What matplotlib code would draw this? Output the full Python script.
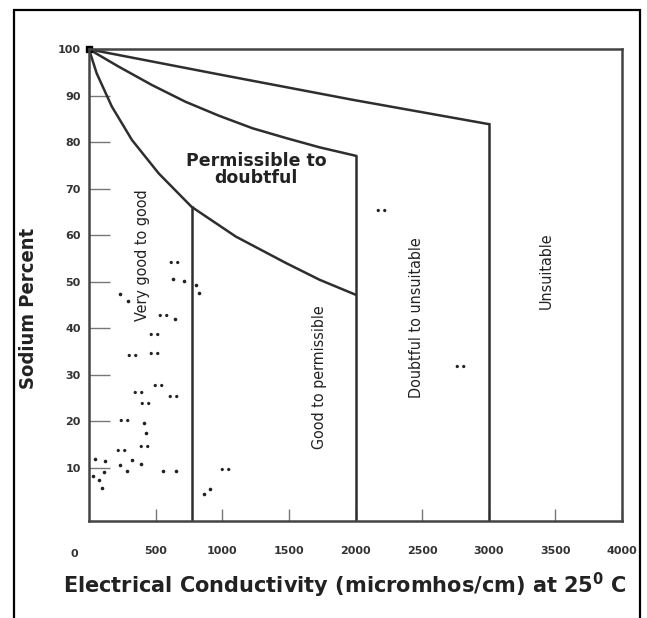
import matplotlib
matplotlib.use("Agg")
import matplotlib.pyplot as plt
from matplotlib.path import Path
from matplotlib.patches import Rectangle

# boundary curves (EC, Na%)
top_ec = [0, 975, 1985, 3000]
top_na = [100, 94.6, 89.1, 83.9]
mid_ec = [0, 221, 473, 725, 976, 1228, 1479, 1731, 2000]
mid_na = [100, 96.3, 92.3, 88.7, 85.7, 83.0, 80.9, 78.9, 77.1]
low_ec = [0, 58, 171, 322, 523, 770, 1102, 1479, 1731, 2000]
low_na = [100, 94.8, 87.7, 80.5, 73.3, 66.1, 59.7, 54.0, 50.4, 47.2]

# samples drawn as a double dot
pair_ec = [637, 559, 486, 326, 489, 521, 364, 634, 421, 266, 243, 411, 1020, 2190, 2782]
pair_na = [54.2, 42.9, 38.7, 34.2, 34.6, 27.7, 26.2, 25.4, 23.9, 20.3, 13.8, 14.6, 9.6, 65.4, 31.9]

# samples drawn as a single dot
single_ec = [634, 714, 802, 827, 233, 289, 644, 410, 430, 45, 120, 233, 326, 389,
             283, 552, 652, 113, 33, 75, 101, 865, 908]
single_na = [50.6, 50.1, 49.2, 47.6, 47.4, 45.8, 42.0, 19.6, 17.4, 11.8, 11.4, 10.5, 11.6, 10.7,
             9.3, 9.3, 9.2, 9.0, 8.2, 7.4, 5.6, 4.4, 5.4]

x_ticks = [500, 1000, 1500, 2000, 2500, 3000, 3500, 4000]
y_ticks = [10, 20, 30, 40, 50, 60, 70, 80, 90, 100]

zone_labels = ["Very good to good", "Good to permissible", "Doubtful to unsuitable", "Unsuitable"]
zone_x = [402, 1728, 2460, 3429]
zone_y = [55.8, 29.5, 42.2, 52.3]

line_col = "#2e2e2e"
y_bottom = -1.5

fig = plt.figure(figsize=(6.47, 6.18), dpi=100)
fig.patches.append(Rectangle((14 / 647, -0.05), 626 / 647, 1.05 - 10 / 618,
                             transform=fig.transFigure, fill=False,
                             edgecolor="black", linewidth=1.6))
ax = fig.add_axes([89 / 647, 1 - 521 / 618, 533 / 647, 471.7 / 618])

# curves
ax.plot(top_ec, top_na, color=line_col, lw=1.8)
ax.plot(mid_ec, mid_na, color=line_col, lw=1.8)
ax.plot(low_ec, low_na, color=line_col, lw=1.8)

# vertical class boundaries
ax.plot([low_ec[5], low_ec[5]], [low_na[5], y_bottom], color=line_col, lw=1.8)
ax.plot([mid_ec[-1], mid_ec[-1]], [mid_na[-1], y_bottom], color=line_col, lw=1.8)
ax.plot([top_ec[-1], top_ec[-1]], [top_na[-1], y_bottom], color=line_col, lw=1.8)

ax.plot([0], [100], marker="s", color="black", markersize=4, clip_on=False)

two_dots = Path.make_compound_path(Path.circle((-1, 0), 0.5), Path.circle((1, 0), 0.5))
ax.plot(pair_ec, pair_na, ls="none", marker=two_dots, markersize=7,
        color="#222222", markeredgewidth=0)
ax.plot(single_ec, single_na, ls="none", marker="o", markersize=2.6,
        color="#222222", markeredgewidth=0)

ax.text(1253, 74.2, "Permissible to\ndoubtful", ha="center", va="center",
        fontsize=12.5, fontweight="bold", color="#222222", linespacing=0.9)
for lab, zx, zy in zip(zone_labels, zone_x, zone_y):
    ax.text(zx, zy, lab, rotation=90, ha="center", va="center",
            fontsize=11.5, family="DejaVu Sans", fontstretch="condensed",
            color="#222222")

ax.set_xlim(0, 4000)
ax.set_ylim(y_bottom, 100)
ax.set_xticks(x_ticks)
ax.set_yticks(y_ticks)
ax.set_xticklabels([str(v) for v in x_ticks])
ax.set_yticklabels([str(v) for v in y_ticks])
ax.tick_params(axis="y", direction="in", length=15, width=1, color="#777777",
               labelsize=8, labelcolor="#333333", pad=6)
ax.tick_params(axis="x", direction="in", length=9, width=1, color="#777777",
               labelsize=8, labelcolor="#333333", pad=18)
for lab in ax.get_xticklabels() + ax.get_yticklabels():
    lab.set_fontweight("bold")
ax.text(-0.027, -0.07, "0", transform=ax.transAxes, ha="center", va="center",
        fontsize=8, fontweight="bold", color="#333333")

for sp in ax.spines.values():
    sp.set_color("#444444")
    sp.set_linewidth(1.8)

ax.set_xlabel(r"Electrical Conductivity (micromhos/cm) at 25$^\mathbf{0}$ C",
              fontsize=15, fontweight="bold", color="#222222")
ax.xaxis.set_label_coords(0.48, -0.105)
ax.set_ylabel("Sodium Percent", fontsize=14.5, fontweight="bold",
              family="DejaVu Sans", fontstretch="condensed", color="#222222")
ax.yaxis.set_label_coords(-0.095, 0.45)

fig.savefig("out.png", dpi=100)
